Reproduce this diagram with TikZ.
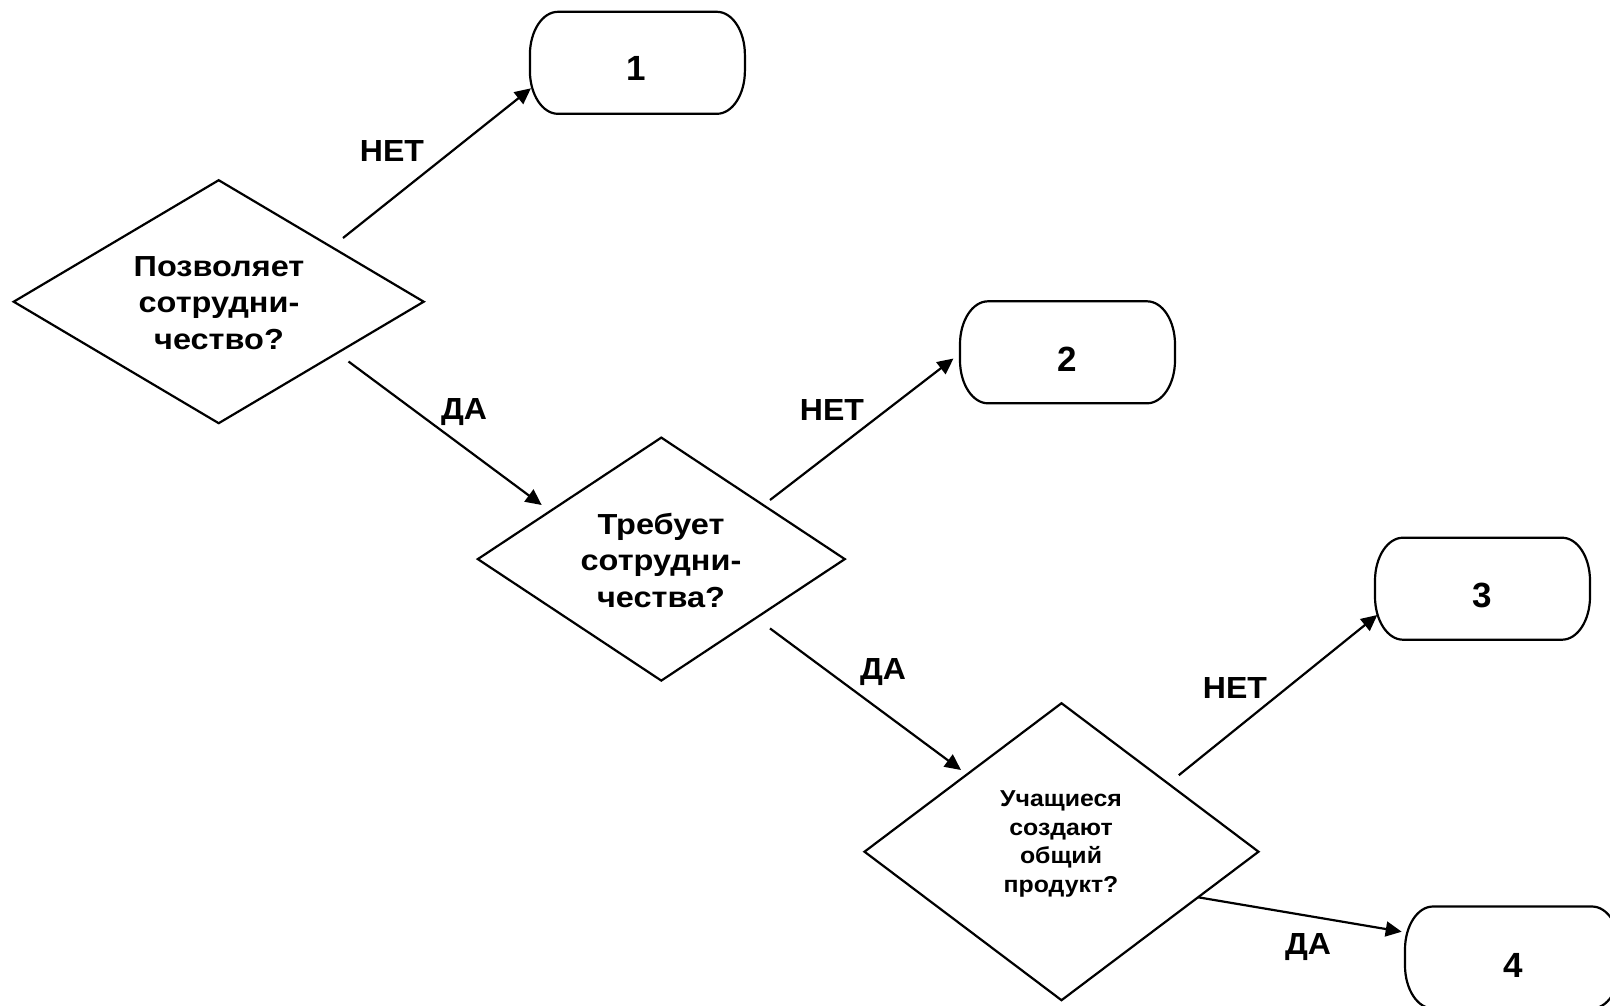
\documentclass[tikz,border=0pt]{standalone}
\usepackage{fontspec}
\setmainfont{Liberation Sans}
\newfontfamily\qfont[FakeStretch=1.12]{Liberation Sans}
\newfontfamily\qsfont[FakeStretch=1.08]{Liberation Sans}
\newfontfamily\lfont[FakeStretch=1.05]{Liberation Sans}
\usetikzlibrary{arrows.meta,shapes.geometric}
\newcommand\TermPath[1]{%
  \draw[tline] ([xshift=28pt]#1.north west) -- ([xshift=-28pt]#1.north east)
    arc[start angle=90,end angle=0,x radius=28pt,y radius=43pt]
    -- ([yshift=43pt]#1.south east)
    arc[start angle=0,end angle=-90,x radius=28pt,y radius=43pt]
    -- ([xshift=28pt]#1.south west)
    arc[start angle=270,end angle=180,x radius=28pt,y radius=43pt]
    -- ([yshift=-43pt]#1.north west)
    arc[start angle=180,end angle=90,x radius=28pt,y radius=43pt] -- cycle;}
\begin{document}
\begin{tikzpicture}[x=1pt,y=-1pt,
  tline/.style={line width=2.2pt, line join=miter},
  dia/.style={diamond, draw, line width=2.2pt, inner sep=0pt, outer sep=0pt},
  term/.style={rectangle, draw=none, inner sep=0pt, outer sep=0pt,
               minimum width=215pt, minimum height=102pt},
  qtext/.style={font=\qfont\bfseries\fontsize{29}{36.5}\selectfont, align=center, inner sep=0pt},
  qsmall/.style={font=\qsfont\bfseries\fontsize{23}{28.5}\selectfont, align=center, inner sep=0pt},
  lbl/.style={font=\lfont\bfseries\fontsize{30.5}{35}\selectfont, inner sep=0pt, text depth=0pt},
  dig/.style={font=\bfseries\fontsize{35}{40}\selectfont, inner sep=0pt, text depth=0pt},
  arr/.style={line width=2.2pt, -{Triangle[length=16pt,width=15pt]}}]
\useasboundingbox (0,0) rectangle (1610,1005);

% decisions
\node[dia, minimum width=410pt, minimum height=243pt] (d1) at (218.7,301.7) {};
\node[dia, minimum width=367pt, minimum height=243pt] (d2) at (661.3,559.1) {};
\node[dia, minimum width=394pt, minimum height=297pt] (d3) at (1061.5,851.7) {};
\node[qtext] (q1) at (219,303) {Позволяет\\сотрудни-\\чество?};
\node[qtext] (q2) at (661,560) {Требует\\сотрудни-\\чества?};
\node[qsmall] (q3) at (1061,844) {Учащиеся\\создают\\общий\\продукт?};

% terminals
\node[term] (t1) at (637.4,62.8) {};
\node[term] (t2) at (1067.5,352.3) {};
\node[term] (t3) at (1482.5,588.7) {};
\node[term] (t4) at (1512.5,957.5) {};
\TermPath{t1}
\TermPath{t2}
\TermPath{t3}
\TermPath{t4}
\node[dig] (n1) at (636.5,68) {1};
\node[dig] (n2) at (1067,359) {2};
\node[dig] (n3) at (1482,595) {3};
\node[dig] (n4) at (1513,965) {4};

% connector free ends
\coordinate (s1) at (343,238);
\coordinate (s2) at (348.5,361.5);
\coordinate (e2) at (541.7,505);
\coordinate (s3) at (770,500);
\coordinate (s4) at (770,628.4);
\coordinate (e4) at (961,770);
\coordinate (s5) at (1178.8,775.2);
\coordinate (s6) at (1198.3,897.3);

\draw[arr] (s1) -- ([shift={(1,25.5)}]t1.west);
\draw[arr] (s2) -- (e2);
\draw[arr] (s3) -- ([shift={(-6.5,6.2)}]t2.west);
\draw[arr] (s4) -- (e4);
\draw[arr] (s5) -- ([shift={(2.3,26.3)}]t3.west);
\draw[arr] (s6) -- ([shift={(-3.3,-25.8)}]t4.west);

% labels
\node[lbl] (l1) at (392,151) {НЕТ};
\node[lbl] (l2) at (464,409) {ДА};
\node[lbl] (l3) at (832,410) {НЕТ};
\node[lbl] (l4) at (883,669) {ДА};
\node[lbl] (l5) at (1235,688) {НЕТ};
\node[lbl] (l6) at (1308,944) {ДА};
\end{tikzpicture}
\end{document}
